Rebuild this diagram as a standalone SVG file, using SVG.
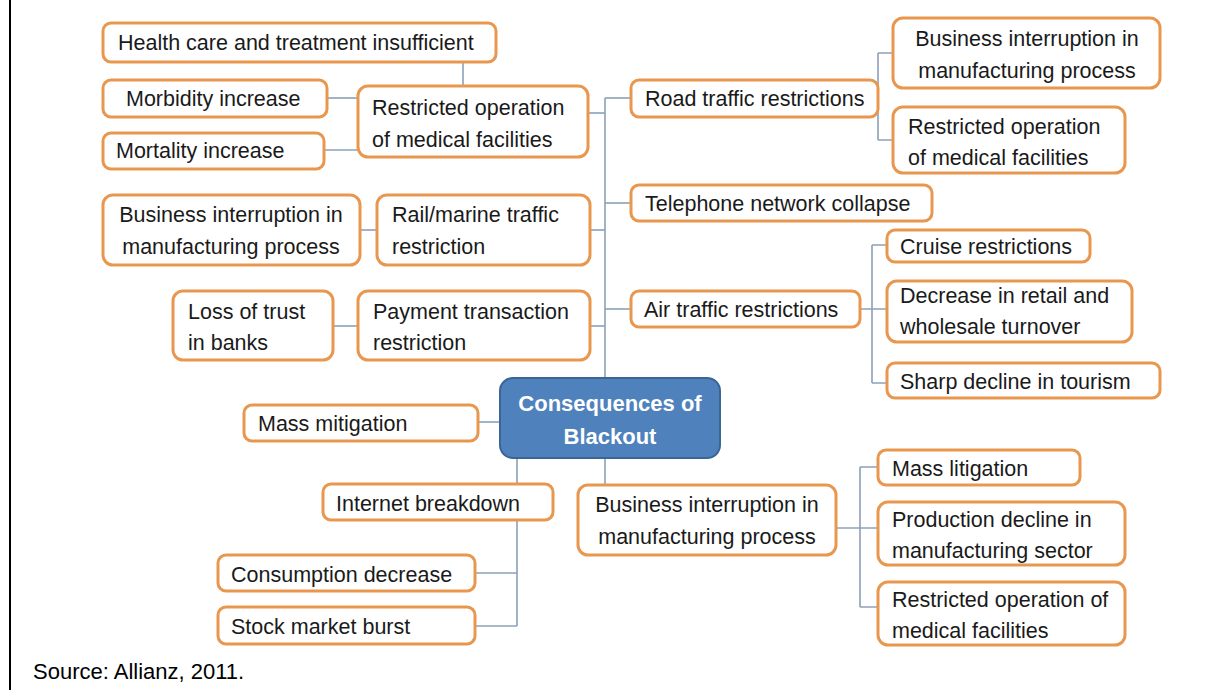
<svg xmlns="http://www.w3.org/2000/svg" width="1232" height="690" viewBox="0 0 1232 690">
<style>
.box{fill:#ffffff;stroke:#e9974f;stroke-width:3}
.t{font-family:"Liberation Sans",Arial,sans-serif;font-size:21.5px;fill:#1a1a1a}
.c{text-anchor:middle}
.ct{font-family:"Liberation Sans",Arial,sans-serif;font-size:22px;font-weight:bold;fill:#ffffff;text-anchor:middle}
.ln{fill:none;stroke:#8da1b9;stroke-width:1.6}
</style>
<rect x="0" y="0" width="1232" height="690" fill="#ffffff"/>
<line x1="10" y1="0" x2="10" y2="690" stroke="#000" stroke-width="2"/>
<g id="connectors" class="ln">
<path d="M463,62V86"/>
<path d="M327,98H358"/>
<path d="M324,150H358"/>
<path d="M588,113H605"/>
<path d="M605,98V378"/>
<path d="M605,98H631"/>
<path d="M878,53V140M878,53H893M878,140H893"/>
<path d="M605,203H631"/>
<path d="M590,230H605"/>
<path d="M360,230H377"/>
<path d="M605,309H631"/>
<path d="M860,309H887M872,245V383M872,245H887M872,383H887"/>
<path d="M590,326H605"/>
<path d="M333,326H358"/>
<path d="M478,422H500"/>
<path d="M517,458V484M517,520V626M475,573H517M475,626H517"/>
<path d="M605,458V485"/>
<path d="M836,528H878M860,467V607M860,467H878M860,607H878"/>
</g>
<g id="n_health"><rect class="box" x="103" y="23" width="393" height="39" rx="8"/><text class="t" x="118" y="50">Health care and treatment insufficient</text></g>
<g id="n_morbidity"><rect class="box" x="103" y="80" width="224" height="37" rx="8"/><text class="t" x="126" y="106">Morbidity increase</text></g>
<g id="n_mortality"><rect class="box" x="103" y="133" width="221" height="36" rx="8"/><text class="t" x="116" y="158">Mortality increase</text></g>
<g id="n_restr_left"><rect class="box" x="358" y="86" width="230" height="71" rx="10"/><text class="t" x="372" y="115">Restricted operation</text><text class="t" x="372" y="147">of medical facilities</text></g>
<g id="n_road"><rect class="box" x="631" y="80" width="247" height="37" rx="8"/><text class="t" x="645" y="106">Road traffic restrictions</text></g>
<g id="n_biz_tr"><rect class="box" x="893" y="18" width="267" height="70" rx="10"/><text class="t c" x="1027" y="46">Business interruption in</text><text class="t c" x="1027" y="78">manufacturing process</text></g>
<g id="n_restr_right"><rect class="box" x="893" y="107" width="232" height="66" rx="10"/><text class="t" x="908" y="134">Restricted operation</text><text class="t" x="908" y="165">of medical facilities</text></g>
<g id="n_telephone"><rect class="box" x="631" y="185" width="301" height="36" rx="8"/><text class="t" x="645" y="211">Telephone network collapse</text></g>
<g id="n_biz_left"><rect class="box" x="103" y="195" width="257" height="70" rx="10"/><text class="t c" x="231" y="222">Business interruption in</text><text class="t c" x="231" y="254">manufacturing process</text></g>
<g id="n_rail"><rect class="box" x="377" y="195" width="213" height="70" rx="10"/><text class="t" x="392" y="222">Rail/marine traffic</text><text class="t" x="392" y="254">restriction</text></g>
<g id="n_cruise"><rect class="box" x="887" y="230" width="203" height="32" rx="8"/><text class="t" x="900" y="254">Cruise restrictions</text></g>
<g id="n_air"><rect class="box" x="631" y="291" width="229" height="36" rx="8"/><text class="t" x="644" y="317">Air traffic restrictions</text></g>
<g id="n_decrease"><rect class="box" x="887" y="281" width="245" height="61" rx="10"/><text class="t" x="900" y="303">Decrease in retail and</text><text class="t" x="900" y="334">wholesale turnover</text></g>
<g id="n_loss"><rect class="box" x="173" y="291" width="160" height="69" rx="10"/><text class="t" x="188" y="319">Loss of trust</text><text class="t" x="188" y="350">in banks</text></g>
<g id="n_payment"><rect class="box" x="358" y="291" width="232" height="69" rx="10"/><text class="t" x="373" y="319">Payment transaction</text><text class="t" x="373" y="350">restriction</text></g>
<g id="n_sharp"><rect class="box" x="887" y="363" width="273" height="35" rx="8"/><text class="t" x="900" y="389">Sharp decline in tourism</text></g>
<g id="n_center"><rect x="500" y="378" width="220" height="80" rx="13" fill="#4f81bd" stroke="#3a6597" stroke-width="2"/><text class="ct" x="610" y="411">Consequences of</text><text class="ct" x="610" y="444">Blackout</text></g>
<g id="n_mass_mitigation"><rect class="box" x="244" y="405" width="234" height="36" rx="8"/><text class="t" x="258" y="431">Mass mitigation</text></g>
<g id="n_mass_litigation"><rect class="box" x="878" y="450" width="202" height="35" rx="8"/><text class="t" x="892" y="476">Mass litigation</text></g>
<g id="n_internet"><rect class="box" x="323" y="484" width="230" height="36" rx="8"/><text class="t" x="336" y="511">Internet breakdown</text></g>
<g id="n_biz_bottom"><rect class="box" x="578" y="485" width="258" height="70" rx="10"/><text class="t c" x="707" y="512">Business interruption in</text><text class="t c" x="707" y="544">manufacturing process</text></g>
<g id="n_production"><rect class="box" x="878" y="502" width="247" height="63" rx="10"/><text class="t" x="892" y="527">Production decline in</text><text class="t" x="892" y="558">manufacturing sector</text></g>
<g id="n_consumption"><rect class="box" x="218" y="555" width="257" height="36" rx="8"/><text class="t" x="231" y="582">Consumption decrease</text></g>
<g id="n_restr_bottom"><rect class="box" x="878" y="582" width="247" height="63" rx="10"/><text class="t" x="892" y="607">Restricted operation of</text><text class="t" x="892" y="638">medical facilities</text></g>
<g id="n_stock"><rect class="box" x="218" y="607" width="257" height="37" rx="8"/><text class="t" x="231" y="634">Stock market burst</text></g>
<text x="33" y="679" style="font-family:'Liberation Sans',Arial,sans-serif;font-size:22px;fill:#000">Source: Allianz, 2011.</text>
</svg>
